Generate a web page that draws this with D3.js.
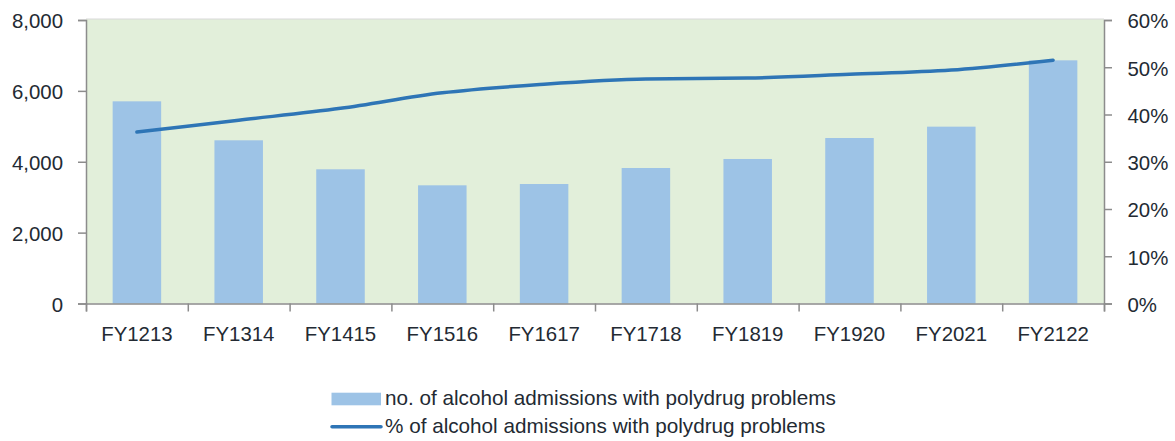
<!DOCTYPE html>
<html>
<head>
<meta charset="utf-8">
<script src="https://cdn.jsdelivr.net/npm/d3@7"></script>
<style>
  html, body { margin: 0; padding: 0; background: #ffffff; }
  svg { display: block; font-family: "Liberation Sans", Arial, sans-serif; }
</style>
</head>
<body>
<svg id="chart" width="1175" height="441"></svg>
<script>
const categories = ["FY1213","FY1314","FY1415","FY1516","FY1617","FY1718","FY1819","FY1920","FY2021","FY2122"];
const admissions = [5705, 4605, 3787, 3335, 3372, 3824, 4078, 4670, 4990, 6862];
const percentPoly = [0.363, 0.388, 0.413, 0.446, 0.464, 0.475, 0.477, 0.485, 0.494, 0.515];
const leftTicks = [0, 2000, 4000, 6000, 8000];
const rightTicks = [0, 0.1, 0.2, 0.3, 0.4, 0.5, 0.6];
const legendLabels = ["no. of alcohol admissions with polydrug problems", "% of alcohol admissions with polydrug problems"];

const plot = { left: 86, right: 1104, top: 20, bottom: 303.5 };
const textColor = "#232a33";
const axisColor = "#8c8c8c";
const barColor = "#9DC3E6";
const lineColor = "#2E75B6";
const bgColor = "#E2EFDA";

const svg = d3.select("#chart");

const x = d3.scaleBand().domain(categories).range([plot.left, plot.right])
  .paddingInner(0.5235).paddingOuter(0.26175);
const yL = d3.scaleLinear().domain([0, 8000]).range([plot.bottom, plot.top]);
const yR = d3.scaleLinear().domain([0, 0.6]).range([plot.bottom, plot.top]);

// plot background
svg.append("rect")
  .attr("x", plot.left).attr("y", plot.top - 1)
  .attr("width", plot.right - plot.left).attr("height", plot.bottom - plot.top + 1)
  .attr("fill", bgColor);
svg.append("line")
  .attr("x1", plot.left).attr("x2", plot.right)
  .attr("y1", plot.top - 1).attr("y2", plot.top - 1)
  .attr("stroke", "#d9d9d9").attr("stroke-width", 1);

// bars
svg.append("g").selectAll("rect").data(admissions).join("rect")
  .attr("x", (d, i) => x(categories[i]))
  .attr("y", d => yL(d))
  .attr("width", x.bandwidth())
  .attr("height", d => yL(0) - yL(d))
  .attr("fill", barColor);

// axes
const fmt = d3.format(",");
const gL = svg.append("g").attr("transform", `translate(${plot.left},0)`)
  .call(d3.axisLeft(yL).tickValues(leftTicks).tickFormat(fmt).tickSize(8).tickPadding(15));
const gR = svg.append("g").attr("transform", `translate(${plot.right},0)`)
  .call(d3.axisRight(yR).tickValues(rightTicks).tickFormat(d3.format(".0%")).tickSize(8).tickPadding(15.5));

const bIdx = d3.scaleLinear().domain([0, categories.length]).range([plot.left, plot.right]);
const gB = svg.append("g").attr("transform", `translate(0,${plot.bottom})`)
  .call(d3.axisBottom(bIdx).tickValues(d3.range(categories.length + 1)).tickFormat("").tickSize(8));
const gBL = svg.append("g").attr("transform", `translate(0,${plot.bottom})`)
  .call(d3.axisBottom(x).tickSize(0).tickPadding(23.3));
gBL.select(".domain").remove();

[gL, gR, gB, gBL].forEach(g => {
  g.selectAll(".domain").attr("stroke", axisColor).attr("stroke-width", 1.5);
  g.selectAll(".tick line").attr("stroke", axisColor).attr("stroke-width", 1.5);
  g.selectAll("text").attr("fill", textColor).attr("font-size", 20.4)
    .attr("font-family", '"Liberation Sans", Arial, sans-serif');
});
gL.selectAll("text").attr("dy", "0.38em");
gR.selectAll("text").attr("dy", "0.38em");

// line
const line = d3.line()
  .x((d, i) => x(categories[i]) + x.bandwidth() / 2)
  .y(d => yR(d))
  .curve(d3.curveMonotoneX);
svg.append("path").datum(percentPoly)
  .attr("d", line)
  .attr("fill", "none")
  .attr("stroke", lineColor)
  .attr("stroke-width", 3.5)
  .attr("stroke-linecap", "round")
  .attr("stroke-linejoin", "round");

// legend
const lg = svg.append("g");
lg.append("rect").attr("x", 331.5).attr("y", 392.7).attr("width", 49.5).attr("height", 12.6).attr("fill", barColor);
lg.append("text").attr("x", 385).attr("y", 405).text(legendLabels[0])
  .attr("font-size", 20.7).attr("fill", textColor);
lg.append("line").attr("x1", 332).attr("x2", 381).attr("y1", 426.7).attr("y2", 426.7)
  .attr("stroke", lineColor).attr("stroke-width", 3.5).attr("stroke-linecap", "round");
lg.append("text").attr("x", 385).attr("y", 432.5).text(legendLabels[1])
  .attr("font-size", 20.7).attr("fill", textColor);
</script>
</body>
</html>
